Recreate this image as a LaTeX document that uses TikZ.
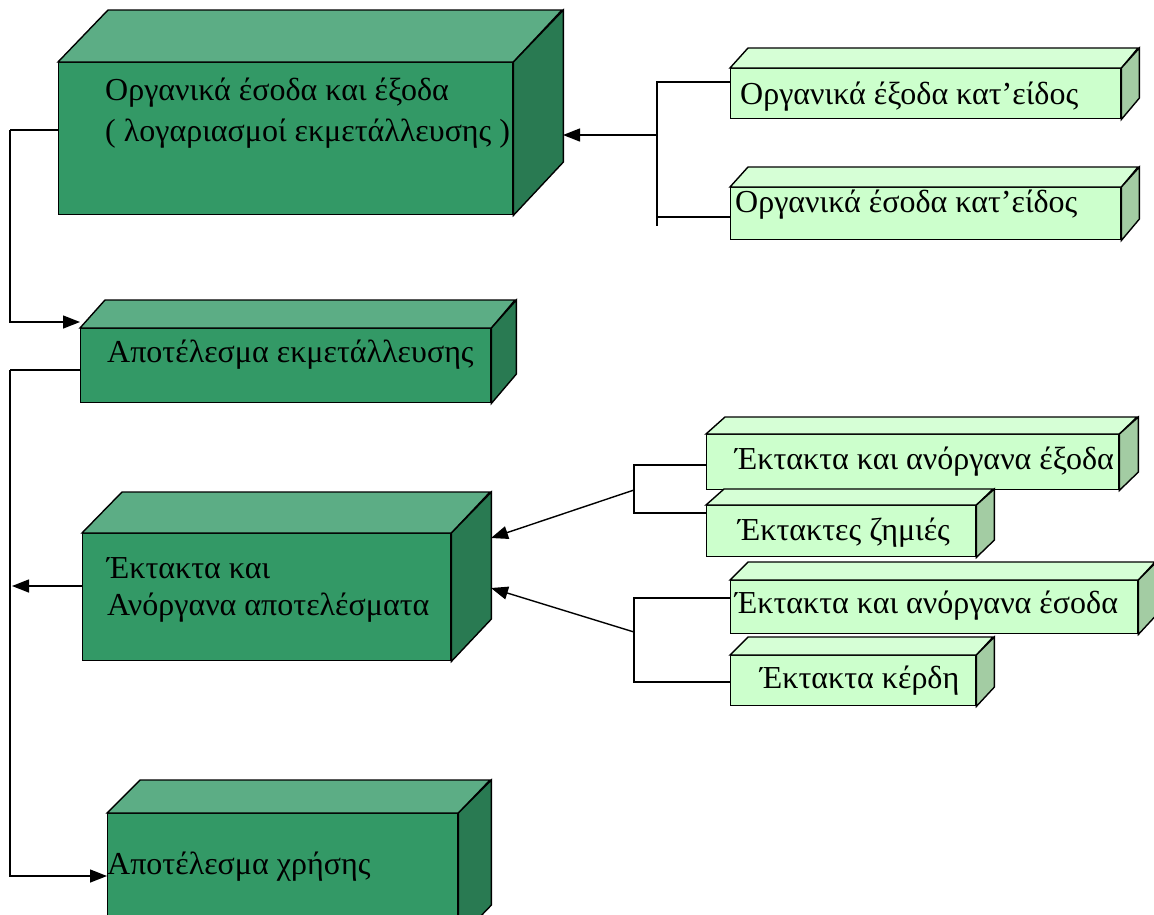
\documentclass[tikz,border=0pt]{standalone}
\usepackage{fontspec}
\setmainfont{Liberation Serif}
\usetikzlibrary{arrows.meta,calc}

\definecolor{dkfront}{HTML}{339966}
\definecolor{dktop}{HTML}{5CAD85}
\definecolor{dkside}{HTML}{297A52}
\definecolor{ltfront}{HTML}{CCFFCC}
\definecolor{lttop}{HTML}{D6FFD6}
\definecolor{ltside}{HTML}{A3CCA3}

% #1 name, #2 x, #3 y (top-left of front face), #4 width, #5 height,
% #6 depth dx, #7 depth dy, #8 palette (dk or lt)
\newcommand\blockbox[8]{%
  \node[faceline, fill=#8front, minimum width=#4pt, minimum height=#5pt,
        anchor=north west] (#1) at (#2,#3) {};
  \filldraw[faceline, fill=#8top] (#1.north west) -- ++(#6,-#7) -- ++(#4,0)
     -- (#1.north east) -- cycle;
  \filldraw[faceline, fill=#8side] (#1.north east) -- ++(#6,-#7) -- ++(0,#5)
     -- (#1.south east) -- cycle;
}

\tikzset{
  faceline/.style={draw=black, line width=1.4pt, inner sep=0pt, line join=miter},
  conn/.style={draw=black, line width=1.4pt},
  arr/.style={conn, -{Triangle[length=17pt,width=13pt]}},
  label/.style={anchor=base west, inner sep=0pt, align=left,
                font=\fontsize{32}{41}\selectfont},
  lbl/.style={label, font=\fontsize{32}{37}\selectfont},
}

\begin{document}
\begin{tikzpicture}[x=1pt,y=-1pt]
  \useasboundingbox (0,0) rectangle (1154,914);
  \begin{scope}
  \clip (0,0) rectangle (1154,914);

  % main (dark) blocks
  \blockbox{A}{58}{62}{454}{152}{50}{52}{dk}
  \blockbox{B}{80}{328}{410}{74}{25}{28}{dk}
  \blockbox{C}{82}{533}{368}{127}{40}{41}{dk}
  \blockbox{E}{107}{813}{350}{125}{33}{33}{dk}

  % detail (light) blocks
  \blockbox{L1}{730}{68}{390}{50}{18}{20}{lt}
  \blockbox{L2}{730}{187}{390}{52}{18}{20}{lt}
  \blockbox{L3}{706}{434}{412}{55}{19}{17}{lt}
  \blockbox{L4}{706}{505}{269}{51}{18}{16}{lt}
  \blockbox{L5}{730}{580}{407}{53}{18}{18}{lt}
  \blockbox{L6}{730}{655}{245}{50}{18}{18}{lt}

  % texts (two-line labels are placed by the baseline of their last line)
  \node[label] (At) at (105,141) {Οργανικά έσοδα και έξοδα\\( λογαριασμοί εκμετάλλευσης )};
  \node[label] (Bt) at (107,362) {Αποτέλεσμα εκμετάλλευσης};
  \node[lbl]   (Ct) at (107,615) {Έκτακτα και\\Ανόργανα αποτελέσματα};
  \node[label] (Et) at (107,874) {Αποτέλεσμα χρήσης};
  \node[label] (L1t) at (740,104) {Οργανικά έξοδα κατ’είδος};
  \node[label] (L2t) at (735,212) {Οργανικά έσοδα κατ’είδος};
  \node[label] (L3t) at (735,469) {Έκτακτα και ανόργανα έξοδα};
  \node[label] (L4t) at (738,540) {Έκτακτες ζημιές};
  \node[label] (L5t) at (735,613) {Έκτακτα και ανόργανα έσοδα};
  \node[label] (L6t) at (760,688) {Έκτακτα κέρδη};

  % free ends of the connectors
  \coordinate (trunkA) at (10,130);
  \coordinate (trunkB) at (10,370);
  \coordinate (trunkC) at (12,586);
  \coordinate (fork1) at (657,135);
  \coordinate (fork2) at (634,490);
  \coordinate (fork3) at (634,632);

  % left-hand chain
  \draw[conn] (A.west |- trunkA) -- (trunkA);
  \draw[arr] (trunkA) |- ([yshift=6pt]B.north west);
  \draw[conn] (B.west |- trunkB) -- (trunkB);
  \draw[arr] (trunkB) |- (E.west |- 0,876);
  \draw[arr] (C.west |- trunkC) -- (trunkC);

  % ordinary income / expenses bracket
  \draw[conn] (L1.west |- 0,82) -| (657,226);
  \draw[conn] (L2.west |- 0,217) -- (657,217);
  \draw[arr] (fork1) -- (563,135);

  % extraordinary expenses bracket
  \draw[conn] (L3.west |- 0,465) -| (fork2 |- 0,513) -- (L4.west |- 0,513);
  \draw[arr] (fork2) -- (491,538);

  % extraordinary income bracket
  \draw[conn] (L5.west |- 0,598) -| (fork3 |- 0,682) -- (L6.west |- 0,682);
  \draw[arr] (fork3) -- (491,588);
  \end{scope}
\end{tikzpicture}
\end{document}
